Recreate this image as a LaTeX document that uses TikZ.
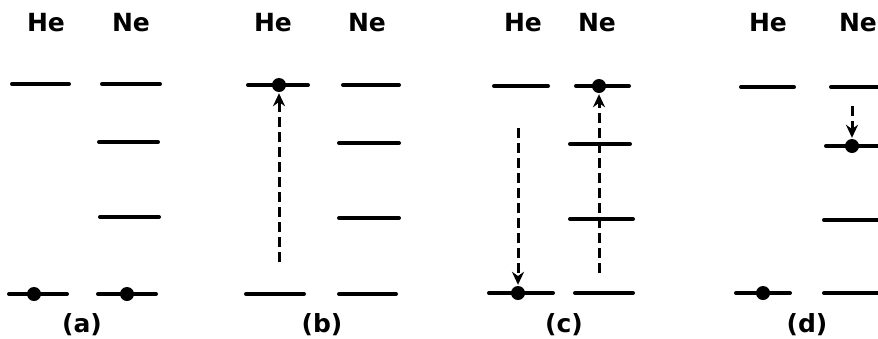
\documentclass[tikz,border=0pt]{standalone}
\usepackage{fontspec}
\setmainfont{DejaVu Sans}
\usetikzlibrary{arrows.meta}
\tikzset{
  level/.style={line width=4pt, line cap=round},
  electron/.style={circle, fill=black, inner sep=0pt, minimum size=14pt},
  jump/.style={line width=3pt, dash pattern=on 10pt off 5pt,
    -{Stealth[length=13pt,width=12pt]}, shorten >=1pt},
  atom/.style={font=\fontsize{25}{25}\selectfont\bfseries},
  tag/.style={font=\fontsize{25}{25}\selectfont\bfseries}
}
% energy level: name, left x, right x, y
\newcommand\enlevel[4]{%
  \coordinate (#1-l) at (#2,#4);
  \coordinate (#1-r) at (#3,#4);
  \draw[level] (#1-l) -- (#1-r);}
\begin{document}
\begin{tikzpicture}[x=1pt,y=-1pt]
\useasboundingbox (0,0) rectangle (878,338);

% ---- (a) ----
\node[atom] (a-he) at (46,23) {He};
\node[atom] (a-ne) at (131,23) {Ne};
\enlevel{a-he1}{12}{69}{84}
\enlevel{a-ne3}{102}{160}{84}
\enlevel{a-ne2}{99}{158}{142}
\enlevel{a-ne1}{100}{159}{217}
\enlevel{a-he0}{9}{67}{294}
\enlevel{a-ne0}{98}{156}{294}
\node[electron] (a-dhe) at (34,294) {};
\node[electron] (a-dne) at (127,294) {};
\node[tag] (a-tag) at (82,325) {(a)};

% ---- (b) ----
\node[atom] (b-he) at (273,23) {He};
\node[atom] (b-ne) at (367,23) {Ne};
\enlevel{b-he1}{248}{308}{85}
\enlevel{b-ne3}{343}{399}{85}
\enlevel{b-ne2}{339}{399}{143}
\enlevel{b-ne1}{339}{399}{218}
\enlevel{b-he0}{246}{304}{294}
\enlevel{b-ne0}{339}{396}{294}
\node[electron] (b-dhe) at (279,85) {};
\coordinate (b-from) at (279,262);
\draw[jump] (b-from) -- (b-dhe);
\node[tag] (b-tag) at (322,325) {(b)};

% ---- (c) ----
\node[atom] (c-he) at (523,23) {He};
\node[atom] (c-ne) at (597,23) {Ne};
\enlevel{c-he1}{494}{548}{86}
\enlevel{c-ne3}{576}{629}{86}
\enlevel{c-ne2}{570}{630}{144}
\enlevel{c-ne1}{570}{633}{219}
\enlevel{c-he0}{489}{553}{293}
\enlevel{c-ne0}{575}{633}{293}
\node[electron] (c-dne) at (599,86) {};
\node[electron] (c-dhe) at (518,293) {};
\coordinate (c-hefrom) at (518,128);
\coordinate (c-nefrom) at (599,273);
\draw[jump] (c-hefrom) -- (c-dhe);
\draw[jump] (c-nefrom) -- (c-dne);
\node[tag] (c-tag) at (564,325) {(c)};

% ---- (d) ----
\node[atom] (d-he) at (768,23) {He};
\node[atom] (d-ne) at (858,23) {Ne};
\enlevel{d-he1}{741}{794}{87}
\enlevel{d-ne3}{831}{882}{87}
\enlevel{d-ne2}{826}{882}{146}
\enlevel{d-ne1}{824}{882}{220}
\enlevel{d-he0}{736}{790}{293}
\enlevel{d-ne0}{824}{882}{293}
\node[electron] (d-dne) at (852,146) {};
\node[electron] (d-dhe) at (763,293) {};
\coordinate (d-from) at (852,106);
\draw[jump] (d-from) -- (d-dne);
\node[tag] (d-tag) at (807,325) {(d)};
\end{tikzpicture}
\end{document}
